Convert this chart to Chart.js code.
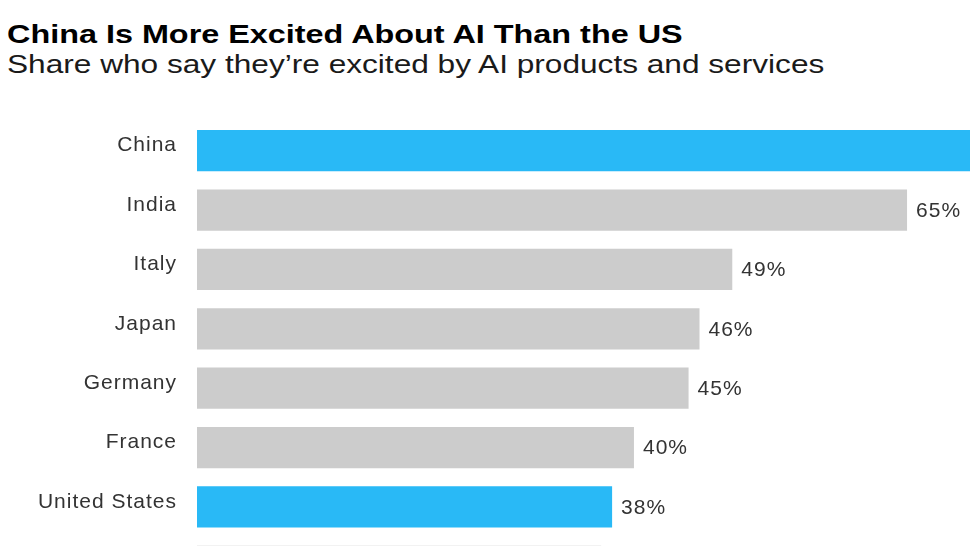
<!DOCTYPE html>
<html>
<head>
<meta charset="utf-8">
<script src="https://cdn.jsdelivr.net/npm/chart.js@4"></script>
<style>
  html, body { margin: 0; padding: 0; background: #ffffff; overflow: hidden; width: 970px; height: 546px; }
  .title { position: absolute; left: 7px; top: 21px; font-family: "Liberation Sans", Arial, sans-serif; font-weight: bold; font-size: 26px; line-height: 1; color: #000; white-space: nowrap; transform: scaleX(1.245); transform-origin: left top; }
  .subtitle { position: absolute; left: 7px; top: 52px; font-family: "Liberation Sans", Arial, sans-serif; font-size: 25.5px; line-height: 1; color: #1a1a1a; white-space: nowrap; transform: scaleX(1.24); transform-origin: left top; }
  #wrap { position: absolute; left: 0; top: 121px; width: 1202px; height: 475px; }
  canvas { display: block; }
</style>
</head>
<body>
<div class="title">China Is More Excited About AI Than the US</div>
<div class="subtitle">Share who say they’re excited by AI products and services</div>
<div id="wrap"><canvas id="c" width="1202" height="475" style="width:1202px;height:475px"></canvas></div>
<script>
const countries = ['China', 'India', 'Italy', 'Japan', 'Germany', 'France', 'United States', 'United Kingdom'];
const excitedShare = [80, 65, 49, 46, 45, 40, 38, 37];
const highlighted = ['China', 'United States'];
const xMax = 92;

const BLUE = '#29b9f6';
const GRAY = '#cccccc';
const TEXT = '#333333';
const FONT = '"Liberation Sans", Arial, sans-serif';

const valueLabels = {
  id: 'valueLabels',
  beforeDraw(chart) { chart.ctx.letterSpacing = '1px'; },
  afterDatasetsDraw(chart) {
    const ctx = chart.ctx;
    const meta = chart.getDatasetMeta(0);
    ctx.save();
    ctx.letterSpacing = '1px';
    ctx.font = '21px ' + FONT;
    ctx.fillStyle = TEXT;
    ctx.textAlign = 'left';
    ctx.textBaseline = 'middle';
    meta.data.forEach((bar, i) => {
      ctx.fillText(excitedShare[i] + '%', bar.x + 9, bar.y + 1);
    });
    ctx.restore();
  }
};

new Chart(document.getElementById('c'), {
  type: 'bar',
  data: {
    labels: countries,
    datasets: [{
      data: excitedShare,
      backgroundColor: countries.map(c => highlighted.includes(c) ? BLUE : GRAY),
      borderWidth: 0,
      categoryPercentage: 1,
      barPercentage: 0.694
    }]
  },
  options: {
    indexAxis: 'y',
    responsive: false,
    animation: false,
    layout: { padding: 0 },
    plugins: { legend: { display: false }, tooltip: { enabled: false }, title: { display: false } },
    scales: {
      x: { display: false, min: 0, max: xMax },
      y: {
        grid: { display: false, drawTicks: false },
        border: { display: false },
        ticks: {
          color: TEXT,
          font: { family: FONT, size: 21 },
          padding: 20,
          labelOffset: -5
        },
        afterFit(scale) {
          scale.width = 197;
          scale.paddingTop = 0;
          scale.paddingBottom = 0;
        }
      }
    }
  },
  plugins: [valueLabels]
});
</script>
</body>
</html>
